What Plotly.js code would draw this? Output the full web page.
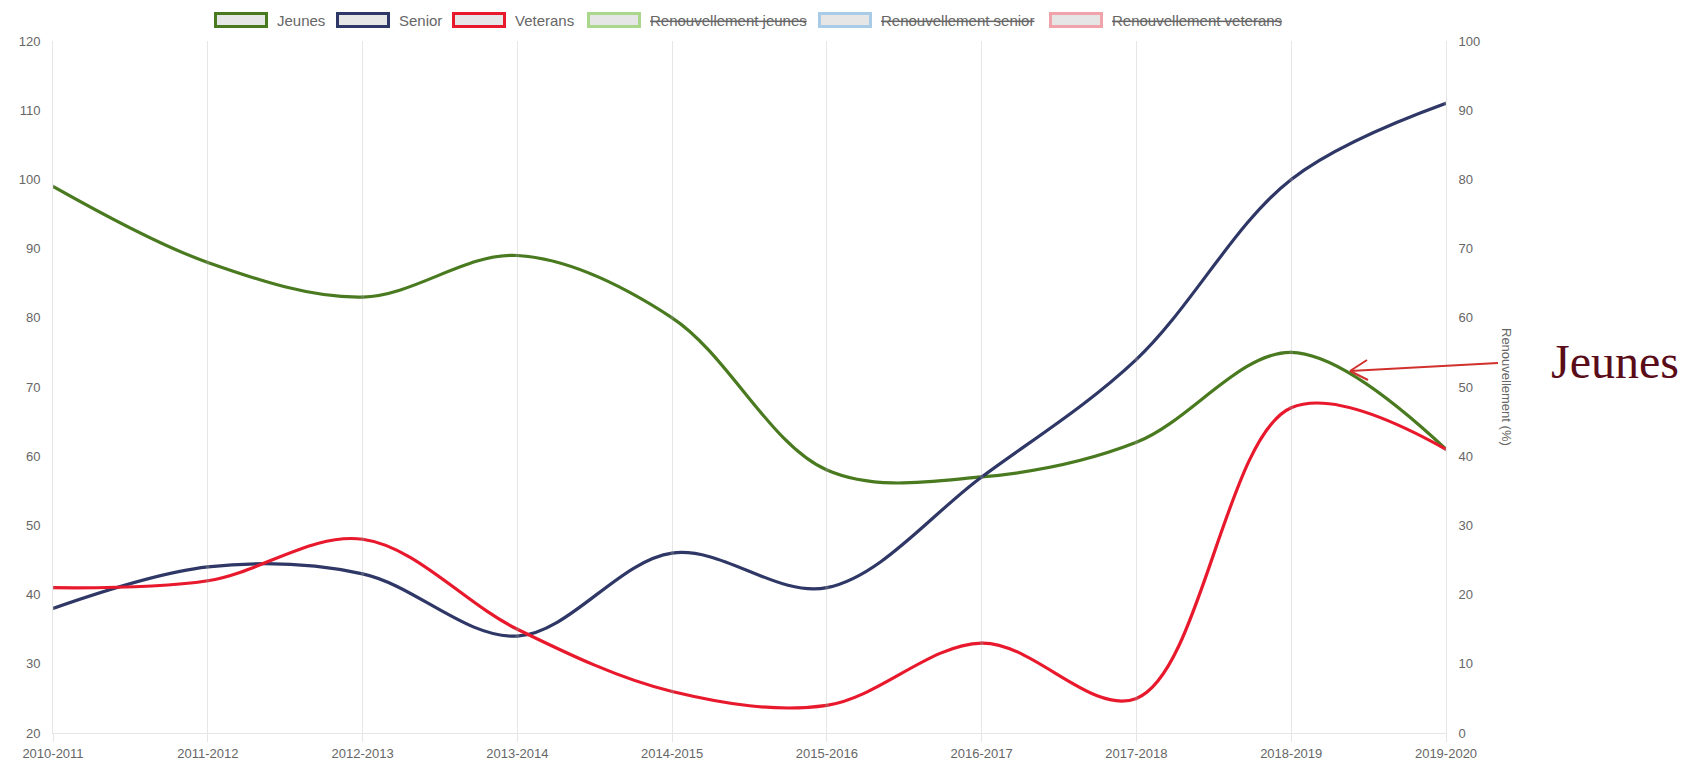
<!DOCTYPE html>
<html>
<head>
<meta charset="utf-8">
<script src="https://cdn.plot.ly/plotly-3.0.1.min.js"></script>
<style>html,body{margin:0;padding:0;background:#fff;}#chart{width:1688px;height:764px;}</style>
</head>
<body>
<div id="chart"></div>
<script>
// ---- data ----
var seasons = ["2010-2011","2011-2012","2012-2013","2013-2014","2014-2015","2015-2016","2016-2017","2017-2018","2018-2019","2019-2020"];
var jeunes   = [99, 88, 83, 89, 80, 58, 57, 62, 75, 61];
var senior   = [38, 44, 43, 34, 46, 41, 57, 74, 100, 111];
var veterans = [41, 42, 48, 35, 26, 24, 33, 25, 67, 61];
var legendNames = ["Jeunes","Senior","Veterans","Renouvellement jeunes","Renouvellement senior","Renouvellement veterans"];
var legendHidden = [false,false,false,true,true,true];
var annotationText = "Jeunes";
var rightAxisTitle = "Renouvellement (%)";

// ---- styling ----
var colors = ["#4a7a1f","#2e3766","#e8192c","#a9d88c","#a8cbe8","#f1a3ab"];
var FONT = "Liberation Sans, Arial, sans-serif";
var L = 53, R = 1446, T = 41, B = 733, W = 1688, H = 764;
function px(x){ return (x - L) / (R - L); }
function py(y){ return (B - y) / (B - T); }

function lineTrace(name, ys, color){
  return {
    x: seasons, y: ys, name: name, type: "scatter", mode: "lines+markers",
    line: {color: color, width: 3.2, shape: "spline", smoothing: 1},
    marker: {size: 4, color: "rgba(150,150,150,0.35)", line: {width: 0}},
    showlegend: false, hoverinfo: "x+y+name"
  };
}
var data = [
  lineTrace(legendNames[0], jeunes, colors[0]),
  lineTrace(legendNames[1], senior, colors[1]),
  lineTrace(legendNames[2], veterans, colors[2]),
  {x: [], y: [], yaxis: "y2", type: "scatter", showlegend: false, hoverinfo: "skip"}
];

// ---- custom legend (Chart.js style boxes) ----
var boxX = [214, 336, 452, 587, 818, 1049];
var boxW = 54, boxTop = 12, boxBot = 28;
var shapes = [], annotations = [];
for (var i = 0; i < legendNames.length; i++) {
  shapes.push({
    type: "rect", xref: "paper", yref: "paper",
    x0: px(boxX[i] + 1.5), x1: px(boxX[i] + boxW - 1.5),
    y0: py(boxTop + 1.5), y1: py(boxBot - 1.5),
    fillcolor: "#e6e6e6", line: {color: colors[i], width: 3}
  });
  annotations.push({
    xref: "paper", yref: "paper", x: px(boxX[i] + boxW + 7), y: py(20),
    xanchor: "left", yanchor: "middle", showarrow: false,
    text: legendHidden[i] ? "<s>" + legendNames[i] + "</s>" : legendNames[i],
    font: {family: FONT, size: 15, color: "#666"}
  });
}

// right axis title
annotations.push({
  xref: "paper", yref: "paper", x: px(1507), y: py(387),
  xanchor: "center", yanchor: "middle", showarrow: false, textangle: 90,
  text: rightAxisTitle, font: {family: FONT, size: 13, color: "#666"}
});
// "Jeunes" callout text
annotations.push({
  xref: "paper", yref: "paper", x: px(1549), y: py(361),
  xanchor: "left", yanchor: "middle", showarrow: false,
  text: annotationText, font: {family: "Liberation Serif, Times New Roman, serif", size: 48, color: "#5a0d18"}
});
// callout arrow (shaft + open chevron head)
var hx = 1350, hy = 371, tx = 1498, ty = 363;
var arrowLine = {color: "#d0312d", width: 2};
shapes.push({type: "line", xref: "paper", yref: "paper", x0: px(tx), y0: py(ty), x1: px(hx), y1: py(hy), line: arrowLine});
shapes.push({type: "line", xref: "paper", yref: "paper", x0: px(1367), y0: py(360), x1: px(hx), y1: py(hy), line: arrowLine});
shapes.push({type: "line", xref: "paper", yref: "paper", x0: px(1368), y0: py(380), x1: px(hx), y1: py(hy), line: arrowLine});

var layout = {
  width: W, height: H,
  margin: {l: L, r: W - R, t: T, b: H - B, pad: 0},
  paper_bgcolor: "#fff", plot_bgcolor: "#fff",
  font: {family: FONT, size: 13, color: "#666"},
  showlegend: false,
  xaxis: {
    type: "category", range: [0, seasons.length - 1],
    showgrid: true, gridcolor: "#e6e6e6", gridwidth: 1,
    ticks: "outside", ticklen: 8, tickcolor: "#e6e6e6",
    showline: true, linecolor: "#e6e6e6", linewidth: 1,
    zeroline: false, tickfont: {family: FONT, size: 13, color: "#666"}
  },
  yaxis: {
    range: [20, 120], dtick: 10, showgrid: false, zeroline: false,
    showline: true, linecolor: "#e6e6e6", linewidth: 1,
    ticks: "", ticklabelstandoff: 9,
    tickfont: {family: FONT, size: 13, color: "#666"}
  },
  yaxis2: {
    overlaying: "y", side: "right", range: [0, 100], dtick: 10,
    showgrid: false, zeroline: false,
    showline: true, linecolor: "#e6e6e6", linewidth: 1,
    ticks: "", ticklabelstandoff: 9,
    tickfont: {family: FONT, size: 13, color: "#666"}
  },
  shapes: shapes,
  annotations: annotations
};

Plotly.newPlot("chart", data, layout, {displayModeBar: false, staticPlot: true});
</script>
</body>
</html>
